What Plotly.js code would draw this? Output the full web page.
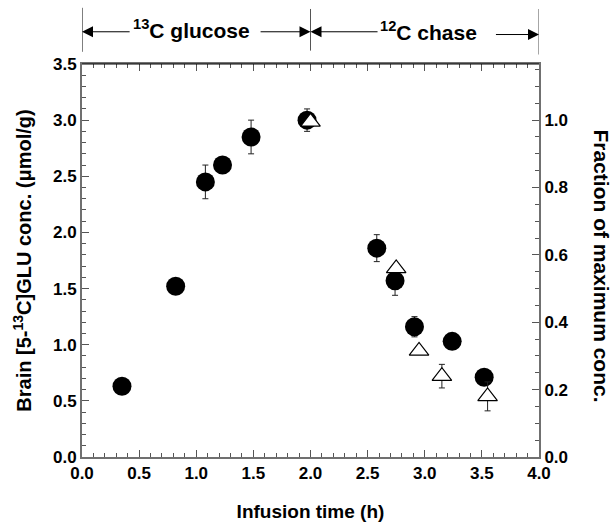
<!DOCTYPE html>
<html>
<head>
<meta charset="utf-8">
<script src="https://cdn.plot.ly/plotly-3.0.1.min.js"></script>
<style>html,body{margin:0;padding:0;background:#fff;}#chart{width:616px;height:524px;}</style>
</head>
<body>
<div id="chart"></div>
<script>
// Filled circles: brain [5-13C]GLU concentration (left axis, µmol/g)
const circleTime = [0.35, 0.82, 1.08, 1.23, 1.48, 1.97, 2.58, 2.74, 2.91, 3.24, 3.52];
const circleConc = [0.63, 1.52, 2.45, 2.60, 2.85, 3.00, 1.86, 1.57, 1.16, 1.03, 0.71];
const circleErr  = [0, 0, 0.15, 0, 0.15, 0.10, 0.12, 0.13, 0.09, 0, 0];

// Open triangles: fraction of maximum concentration (right axis)
const triTime = [2.00, 2.75, 2.95, 3.15, 3.55];
const triFrac = [0.995, 0.56, 0.315, 0.24, 0.18];
const triErr  = [0, 0, 0, 0.035, 0.043];

const xTicks = [0, 0.5, 1, 1.5, 2, 2.5, 3, 3.5, 4];
const xTickText = ['0.0','0.5','1.0','1.5','2.0','2.5','3.0','3.5','4.0'];
const yTicks = [0, 0.5, 1, 1.5, 2, 2.5, 3, 3.5];
const yTickText = ['0.0','0.5','1.0','1.5','2.0','2.5','3.0','3.5'];
const y2Ticks = [0, 0.2, 0.4, 0.6, 0.8, 1.0];
const y2TickText = ['0.0','0.2','0.4','0.6','0.8','1.0'];

const FONT = 'Arial, "Liberation Sans", sans-serif';
const AX = '#707070';
const tickFont = {family: FONT, size: 17, color: '#000', weight: 'bold'};

const traces = [
  {
    x: circleTime, y: circleConc, type: 'scatter', mode: 'markers',
    marker: {symbol: 'circle', size: 19, color: '#000'},
    error_y: {type: 'data', array: circleErr, visible: true, color: '#222', thickness: 1, width: 3},
    xaxis: 'x', yaxis: 'y', showlegend: false
  },
  {
    x: triTime, y: triFrac, type: 'scatter', mode: 'markers',
    marker: {symbol: 'triangle-up', size: 17, color: '#fff', line: {color: '#000', width: 1.2}},
    error_y: {type: 'data', array: triErr, visible: true, color: '#222', thickness: 1, width: 3},
    xaxis: 'x', yaxis: 'y2', showlegend: false
  }
];

const annotations = [
  {xref:'paper', yref:'paper', x:-0.131, y:0.5, xanchor:'center', yanchor:'middle', textangle:-90, showarrow:false,
   text:'Brain [5-<sup>13</sup>C]GLU conc. (\u03bcmol/g)', font:{family:FONT, size:20, color:'#000', weight:'bold'}},
  {xref:'paper', yref:'paper', x:1.136, y:0.487, xanchor:'center', yanchor:'middle', textangle:90, showarrow:false,
   text:'Fraction of maximum conc.', font:{family:FONT, size:21, color:'#000', weight:'bold'}},
  {xref:'x', yref:'paper', x:0.955, y:1.09, xanchor:'center', yanchor:'middle', showarrow:false,
   text:'<sup>13</sup>C glucose', font:{family:FONT, size:21, color:'#000', weight:'bold'}},
  {xref:'x', yref:'paper', x:3.03, y:1.083, xanchor:'center', yanchor:'middle', showarrow:false,
   text:'<sup>12</sup>C chase', font:{family:FONT, size:21, color:'#000', weight:'bold'}},
  // arrows
  {xref:'x', yref:'paper', axref:'x', ayref:'paper', x:0.0, y:1.082, ax:0.43, ay:1.082, text:'',
   showarrow:true, arrowhead:2, arrowsize:2.2, arrowwidth:1, arrowcolor:'#000', standoff:0},
  {xref:'x', yref:'paper', axref:'x', ayref:'paper', x:2.0, y:1.082, ax:1.55, ay:1.082, text:'',
   showarrow:true, arrowhead:2, arrowsize:2.2, arrowwidth:1, arrowcolor:'#000', standoff:0},
  {xref:'x', yref:'paper', axref:'x', ayref:'paper', x:2.0, y:1.082, ax:2.6, ay:1.082, text:'',
   showarrow:true, arrowhead:2, arrowsize:2.2, arrowwidth:1, arrowcolor:'#000', standoff:0},
  {xref:'x', yref:'paper', axref:'x', ayref:'paper', x:4.0, y:1.075, ax:3.61, ay:1.075, text:'',
   showarrow:true, arrowhead:2, arrowsize:2.2, arrowwidth:1, arrowcolor:'#000', standoff:0}
];

const shapes = [
  {type:'line', xref:'x', yref:'paper', x0:0, x1:0, y0:1.031, y1:1.143, line:{color:'#000', width:1}},
  {type:'line', xref:'x', yref:'paper', x0:2, x1:2, y0:1.034, y1:1.14, line:{color:'#555', width:1}},
  {type:'line', xref:'x', yref:'paper', x0:4, x1:4, y0:1.024, y1:1.14, line:{color:'#888', width:1.5}},
  {type:'line', xref:'paper', yref:'paper', x0:0, x1:1, y0:1, y1:1, line:{color:'#000', width:1.2}}
];

const layout = {
  width: 616, height: 524,
  margin: {l: 82, r: 77, t: 64, b: 67},
  paper_bgcolor: '#fff', plot_bgcolor: '#fff',
  font: {family: FONT, color: '#000'},
  xaxis: {
    range: [0, 4], tickvals: xTicks, ticktext: xTickText,
    ticks: 'inside', ticklen: 7, tickwidth: 1, tickcolor: '#555',
    minor: {dtick: 0.1, ticks: 'inside', ticklen: 4, tickcolor: '#555', tickwidth: 1},
    showline: true, linecolor: AX, linewidth: 2, mirror: 'ticks',
    showgrid: false, zeroline: false, tickfont: tickFont,
    title: {text: 'Infusion time (h)', font: {family: FONT, size: 19, color: '#000', weight: 'bold'}, standoff: 22}
  },
  yaxis: {
    range: [0, 3.5], tickvals: yTicks, ticktext: yTickText,
    ticks: 'inside', ticklen: 7, tickwidth: 1, tickcolor: '#555',
    minor: {dtick: 0.1, ticks: 'inside', ticklen: 4, tickcolor: '#555', tickwidth: 1},
    showline: true, linecolor: AX, linewidth: 2,
    showgrid: false, zeroline: false, tickfont: tickFont
  },
  yaxis2: {
    range: [0, 3.5/3], tickvals: y2Ticks, ticktext: y2TickText,
    overlaying: 'y', side: 'right',
    ticks: 'inside', ticklen: 7, tickwidth: 1, tickcolor: '#555',
    minor: {dtick: 0.05, ticks: 'inside', ticklen: 4, tickcolor: '#555', tickwidth: 1},
    showline: true, linecolor: AX, linewidth: 2,
    showgrid: false, zeroline: false, tickfont: tickFont
  },
  annotations: annotations,
  shapes: shapes
};

Plotly.newPlot('chart', traces, layout, {displayModeBar: false, staticPlot: true});
</script>
</body>
</html>
